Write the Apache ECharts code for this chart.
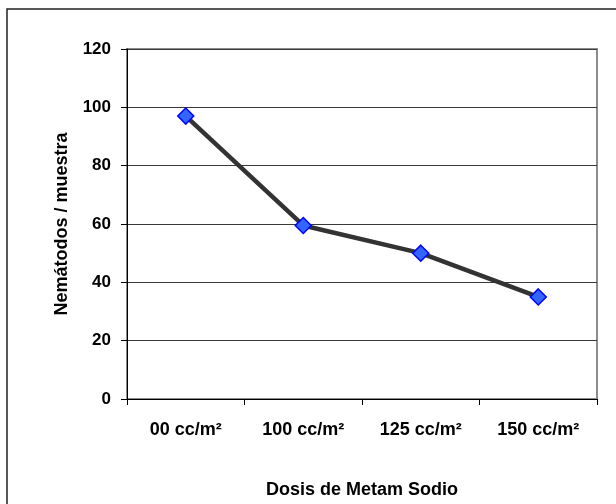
<!DOCTYPE html>
<html>
<head>
<meta charset="utf-8">
<script src="https://cdn.jsdelivr.net/npm/echarts@6/dist/echarts.min.js"></script>
<style>
  html, body { margin: 0; padding: 0; background: #fff; }
  #chart { width: 616px; height: 504px; }
</style>
</head>
<body>
<div id="chart"></div>
<script>
// Nematode counts per sample for each Metam Sodio dose
const categories = ['00 cc/m²', '100 cc/m²', '125 cc/m²', '150 cc/m²'];
const nematodes = [97, 59.5, 50, 35];
const yTicks = { min: 0, max: 120, interval: 20 };

const font = '"Liberation Sans", Arial, sans-serif';

const chart = echarts.init(document.getElementById('chart'), null, { renderer: 'canvas' });
chart.setOption({
  backgroundColor: '#ffffff',
  animation: false,
  graphic: [{
    type: 'rect',
    shape: { x: 7, y: 9, width: 700, height: 600 },
    style: { fill: 'none', stroke: '#222', lineWidth: 1.5 },
    silent: true
  }],
  grid: {
    left: 127, top: 49, right: 19, bottom: 105,
    show: true, borderColor: '#8c8c8c', borderWidth: 2, backgroundColor: 'transparent'
  },
  xAxis: {
    type: 'category',
    data: categories,
    boundaryGap: true,
    name: 'Dosis de Metam Sodio',
    nameLocation: 'middle',
    nameGap: 82,
    nameTextStyle: { fontFamily: font, fontWeight: 'bold', fontSize: 18, color: '#000' },
    axisLine: { show: true, lineStyle: { color: '#000', width: 1 } },
    axisTick: { show: true, length: 6, lineStyle: { color: '#000' } },
    axisLabel: { interval: 0, margin: 22, fontFamily: font, fontWeight: 'bold', fontSize: 18, color: '#000' },
    splitLine: { show: false }
  },
  yAxis: {
    type: 'value',
    min: yTicks.min, max: yTicks.max, interval: yTicks.interval,
    name: 'Nemátodos / muestra',
    nameLocation: 'middle',
    nameGap: 56,
    nameRotate: 90,
    nameTextStyle: { fontFamily: font, fontWeight: 'bold', fontSize: 18, color: '#000' },
    axisLine: { show: true, lineStyle: { color: '#000', width: 1 } },
    axisTick: { show: true, length: 6, lineStyle: { color: '#000' } },
    axisLabel: { margin: 16, fontFamily: font, fontWeight: 'bold', fontSize: 17, color: '#000' },
    splitLine: { show: true, lineStyle: { color: '#3a3a3a', width: 1 } }
  },
  series: [{
    type: 'line',
    data: nematodes,
    symbol: 'diamond',
    symbolSize: 16,
    lineStyle: { color: '#333333', width: 4.5 },
    itemStyle: { color: '#3366ff', borderColor: '#0000ff', borderWidth: 1.5 },
    z: 3
  }]
});
</script>
</body>
</html>
